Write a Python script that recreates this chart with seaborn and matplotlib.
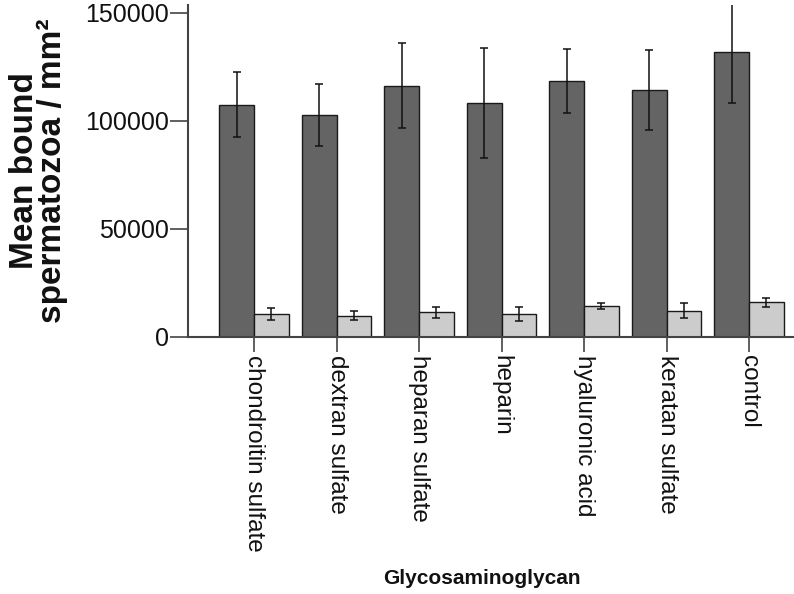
import matplotlib
matplotlib.use("Agg")
import matplotlib.pyplot as plt
import seaborn as sns
import pandas as pd
import numpy as np

categories = ["chondroitin sulfate", "dextran sulfate", "heparan sulfate", "heparin",
              "hyaluronic acid", "keratan sulfate", "control"]
groups = ["A", "B"]
dark_means = [107500, 102900, 116400, 108300, 118500, 114200, 131900]
dark_err = [15000, 14400, 19700, 25500, 15000, 18500, 23500]
light_means = [10600, 9900, 11400, 10600, 14500, 12200, 16000]
light_err = [2850, 2100, 2600, 3400, 1400, 3450, 2250]
yticks = [0, 50000, 100000, 150000]

df = pd.DataFrame({
    "cat": categories * 2,
    "grp": [groups[0]] * len(categories) + [groups[1]] * len(categories),
    "val": dark_means + light_means,
})
errs = {groups[0]: dark_err, groups[1]: light_err}
means = {groups[0]: dark_means, groups[1]: light_means}

sns.set_style("white")
plt.rcParams["font.family"] = ["Liberation Sans", "DejaVu Sans"]

fig = plt.figure(figsize=(7.94, 5.94), dpi=100)
ax = fig.add_axes([188 / 794, 1 - 337 / 594, 1 - 188 / 794, (337 - 5) / 594])

sns.barplot(data=df, x="cat", y="val", hue="grp", order=categories, hue_order=groups,
            palette=["#646464", "#cccccc"], width=0.84, errorbar=None,
            edgecolor="#1a1a1a", linewidth=1.0, legend=False, ax=ax, zorder=2)

for cont, g in zip(ax.containers, groups):
    xs = [p.get_x() + p.get_width() / 2 for p in cont.patches]
    ax.errorbar(xs, means[g], yerr=errs[g], fmt="none", ecolor="#111111",
                elinewidth=1.1, capsize=3, capthick=1.1, zorder=3)

ax.set_ylim(0, 153700)
ax.set_xlim(-0.8, 6.545)
ax.set_yticks(yticks)
ax.set_yticklabels([str(t) for t in yticks])
ax.tick_params(axis="y", length=13, width=1.2, color="#444444", pad=1, labelsize=18,
               labelcolor="#111111", direction="out", left=True)
ax.tick_params(axis="x", length=11, width=1.2, color="#444444", pad=2, labelsize=17.5,
               labelcolor="#111111", direction="out", bottom=True)
for lab in ax.get_xticklabels():
    lab.set_rotation(-90)
    lab.set_va("top")
    lab.set_ha("center")

for s in ["top", "right"]:
    ax.spines[s].set_visible(False)
for s in ["left", "bottom"]:
    ax.spines[s].set_color("#444444")
    ax.spines[s].set_linewidth(1.5)

ax.set_xlabel("Glycosaminoglycan", fontsize=15, fontweight="bold", color="#111111")
ax.xaxis.set_label_coords(0.485, -0.70)
ax.set_ylabel("Mean bound\nspermatozoa / mm²", fontsize=24, fontweight="bold",
              color="#111111", linespacing=0.85)
ax.yaxis.set_label_coords(-0.198, 0.5)

fig.savefig("out.png", dpi=100)
